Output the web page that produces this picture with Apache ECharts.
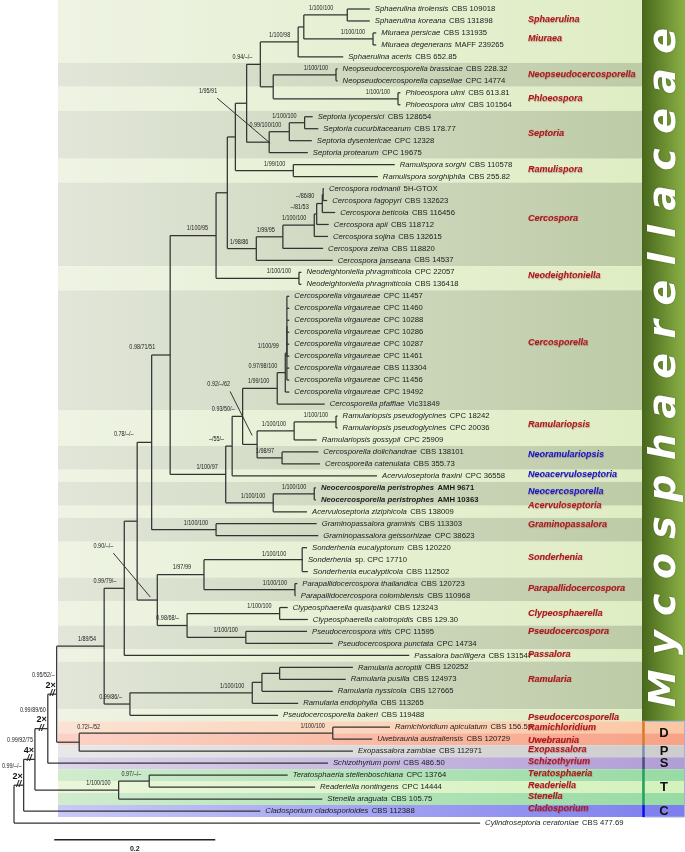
<!DOCTYPE html>
<html><head><meta charset="utf-8">
<script src="https://cdn.jsdelivr.net/npm/echarts@6/dist/echarts.min.js"></script>
<style>html,body{margin:0;padding:0;background:#fff}#c{width:685px;height:852px}</style>
</head><body><div id="c"></div>
<script>
// ---------------- DATA ----------------
const taxonNames = ['Sphaerulina tirolensis','Sphaerulina koreana','Miuraea persicae','Miuraea degenerans','Sphaerulina aceris',
'Neopseudocercosporella brassicae','Neopseudocercosporella capsellae','Phloeospora ulmi','Phloeospora ulmi',
'Septoria lycopersici','Septoria cucurbitacearum','Septoria dysentericae','Septoria protearum',
'Ramulispora sorghi','Ramulispora sorghiphila',
'Cercospora rodmanii','Cercospora fagopyri','Cercospora beticola','Cercospora apii','Cercospora sojina','Cercospora zeina','Cercospora janseana',
'Neodeightoniella phragmiticola','Neodeightoniella phragmiticola',
'Cercosporella virgaureae','Cercosporella virgaureae','Cercosporella virgaureae','Cercosporella virgaureae','Cercosporella virgaureae','Cercosporella virgaureae','Cercosporella virgaureae','Cercosporella virgaureae','Cercosporella virgaureae','Cercosporella pfaffiae',
'Ramulariopsis pseudoglycines','Ramulariopsis pseudoglycines','Ramulariopsis gossypii',
'Cercosporella dolichandrae','Cercosporella catenulata','Acervuloseptoria fraxini',
'Neocercosporella peristrophes','Neocercosporella peristrophes','Acervuloseptoria ziziphicola',
'Graminopassalora graminis','Graminopassalora geissorhizae',
'Sonderhenia eucalyptorum','Sonderhenia','Sonderhenia eucalypticola',
'Parapallidocercospora thailandica','Parapallidocercospora colombiensis',
'Clypeosphaerella quasiparkii','Clypeosphaerella calotropidis','Pseudocercospora vitis','Pseudocercospora punctata',
'Passalora bacilligera','Ramularia acroptili','Ramularia pusilla','Ramularia nyssicola','Ramularia endophylla',
'Pseudocercosporella bakeri','Ramichloridium apiculatum','Uwebraunia australiensis','Exopassalora zambiae',
'Schizothyrium pomi','Teratosphaeria stellenboschiana','Readeriella nontingens','Stenella araguata',
'Cladosporium cladosporioides','Cylindroseptoria ceratoniae'];
const strains = ['CBS 109018','CBS 131898','CBS 131935','MAFF 239265','CBS 652.85',
'CBS 228.32','CPC 14774','CBS 613.81','CBS 101564',
'CBS 128654','CBS 178.77','CPC 12328','CPC 19675',
'CBS 110578','CBS 255.82',
'5H-GTOX','CBS 132623','CBS 116456','CBS 118712','CBS 132615','CBS 118820','CBS 14537',
'CPC 22057','CBS 136418',
'CPC 11457','CPC 11460','CPC 10288','CPC 10286','CPC 10287','CPC 11461','CBS 113304','CPC 11456','CPC 19492','Vic31849',
'CPC 18242','CPC 20036','CPC 25909',
'CBS 138101','CBS 355.73','CPC 36558',
'AMH 9671','AMH 10363','CBS 138009',
'CBS 113303','CPC 38623',
'CBS 120220','sp. CPC 17710','CBS 112502',
'CBS 120723','CBS 110968',
'CBS 123243','CBS 129.30','CPC 11595','CPC 14734',
'CBS 131547','CBS 120252','CBS 124973','CBS 127665','CBS 113265',
'CBS 119488','CBS 156.59','CBS 120729','CBS 112971',
'CBS 486.50','CPC 13764','CPC 14444','CBS 105.75',
'CBS 112388','CBS 477.69'];
const boldRows = [40, 41];
// tip depth (substitutions per site, truncated branches shortened as in the figure)
const tipDepth = [0.442,0.442,0.450,0.450,0.409,
0.402,0.402,0.480,0.480,
0.371,0.378,0.370,0.365,
0.473,0.452,
0.385,0.389,0.399,0.391,0.390,0.384,0.396,
0.357,0.357,
0.342,0.342,0.342,0.342,0.342,0.342,0.342,0.342,0.342,0.386,
0.402,0.402,0.376,
0.378,0.380,0.451,
0.375,0.375,0.364,
0.376,0.378,
0.364,0.359,0.365,
0.352,0.350,
0.340,0.365,0.364,0.396,
0.491,0.421,0.412,0.396,0.353,
0.328,0.467,0.445,0.421,
0.390,0.340,0.374,0.383,
0.306,0.579];

const nodeIds = ['R','M','L','K','J','D','RU','T','TR','I','RAM','R3','R2','R1','H','F','G','SP','SON','PAR','CP','CLY','PSC','E','GRA','Nd','Nc','NN2','NN1','Nb','Na','Nr3','Nr2','Nr1','Nnr','Nv3','Nv2','Nv1','Nv0','N216','NEO','N227','Nc6','Nc5','Nc4','Nc3','Nc2','Nc1','N235','RSP','N247','S3','S2','S1','C260','E273','NPS','PHL','D298','A304','SPH','MIU'];
const nodeDepth = [0,0.012,0.026,0.042,0.053,0.081,0.396,0.130,0.168,0.112,0.144,0.296,0.308,0.330,0.137,0.153,0.178,0.236,0.358,0.349,0.215,0.330,0.288,0.171,0.251,0.194,0.263,0.322,0.373,0.271,0.284,0.302,0.348,0.400,0.333,0.327,0.337,0.339,0.339,0.251,0.354,0.265,0.301,0.334,0.373,0.376,0.383,0.384,0.275,0.347,0.289,0.317,0.342,0.361,0.306,0.322,0.400,0.477,0.353,0.360,0.414,0.446];
const nodeChildren = [['M',68],['L',67],['K','T'],['J',63],['I','D'],['RU',62],[60,61],['TR',66],[64,65],['H','RAM'],['R3',59],['R2',58],['R1',57],[55,56],['F',54],['E','G'],['SP','CP'],['SON','PAR'],[45,46,47],[48,49],['CLY','PSC'],[50,51],[52,53],['Nd','GRA'],[43,44],['N216','Nc'],['Nb','NN2'],['NN1',42],[40,41],['Na',39],['Nv3','Nr3'],['Nr2','Nnr'],['Nr1',36],[34,35],[37,38],['Nv2',33],['Nv1',32],['Nv0',30,31],[24,25,26,27,28,29],['N227','NEO'],[22,23],['N235','Nc6'],['Nc5',21],['Nc4',20],['Nc3',19],['Nc2',18],['Nc1',17],[15,16],['N247','RSP'],[13,14],['C260','S3'],['S2',12],['S1',11],[9,10],['D298','E273'],['NPS','PHL'],[5,6],[7,8],['A304',4],['SPH','MIU'],[0,1],[2,3]];
const nodeSupport = ['','0.99/–/–','0.99/92/75','0.99/89/60','0.95/52/–','0.72/–/52','1/100/100','1/100/100','0.97/–/–','1/89/54','0.99/86/–','1/100/100','','','0.99/79/–','','0.90/–/–','1/97/99','1/100/100','1/100/100','0.98/68/–','1/100/100','1/100/100','0.78/–/–','1/100/100','0.98/71/51','1/100/97','1/100/100','1/100/100','–/55/–','0.93/50/–','0.92/–/62','1/100/100','1/100/100','1/98/97','1/99/100','0.97/98/100','1/100/99','','1/100/95','1/100/100','','1/98/86','1/99/95','1/100/100','–/81/53','–/86/80','','','1/99/100','','1/95/91','0.99/100/100','1/100/100','0.94/–/–','','1/100/100','1/100/100','1/100/98','','1/100/100','1/100/100'];
const truncatedNodes = ['M','L','K','J'];
const truncationFactor = ['2×','4×','2×','2×'];

const genusNames = ['Sphaerulina','Miuraea','Neopseudocercosporella','Phloeospora','Septoria','Ramulispora','Cercospora','Neodeightoniella','Cercosporella','Ramulariopsis','Neoramulariopsis','Neoacervuloseptoria','Neocercosporella','Acervuloseptoria','Graminopassalora','Sonderhenia','Parapallidocercospora','Clypeosphaerella','Pseudocercospora','Passalora','Ramularia','Pseudocercosporella','Ramichloridium','Uwebraunia','Exopassalora','Schizothyrium','Teratosphaeria','Readeriella','Stenella','Cladosporium'];
const genusRows = [0.92,2.5,5.5,7.5,10.4,13.45,17.5,22.3,27.9,34.75,37.25,38.9,40.35,41.5,43.1,45.8,48.4,50.5,52.0,53.9,56.0,59.15,60.05,61.1,61.9,62.9,63.9,64.9,65.75,66.8];
const newGenera = ['Neoramulariopsis','Neoacervuloseptoria','Neocercosporella'];

const bandStart = [0,5,7,9,13,15,22,24,34,37,39,40,42,43,45,48,50,52,54,55,59,60,61,62,63,64,65,66,67];
const bandEnd   = [4,6,8,12,14,21,23,33,36,38,39,41,42,44,47,49,51,53,54,58,59,60,61,62,63,64,65,66,67];
const bandKind  = ['L','D','L','D','L','D','L','D','L','D','L','D','L','D','L','D','L','D','L','D','L','peach','salmon','gray','purple','mint','pale','mint','blue'];

const familyName = 'Mycosphaerellaceae';
const familyLastRow = 59;
const groupLetters = ['D','P','S','T','C'];
const groupFirstRow = [60,62,63,64,67];
const groupLastRow  = [61,62,63,66,67];
const scaleBarLength = 0.2;
const scaleBarLabel = '0.2';

// ---------------- STYLE / LAYOUT ----------------
const FONT = '"Liberation Sans", Arial, sans-serif';
const NARROW_SCALE = 0.78;
const TIP_SIZE = 7.7;
const bandColors = {
  L:['#eef3e3','#dfedc4'], D:['#e2e6d9','#bdcba6'],
  peach:['#fbe2d2','#fbc7a3'], salmon:['#fbd3c6','#f7a285'], gray:['#e8e8e8','#cdcdcd'],
  purple:['#ddd5ea','#b19dd6'], mint:['#d0eccd','#97dba4'], pale:['#ebf6dc','#d3f2bd'], blue:['#c9c9f6','#7d7dee']
};
const groupLineColors = ['#e07a22','#7d90b5','#4b4b7c','#23a357','#0a0aee'];
const labelTweaks = {
  D:{dx:-2, dy:-15, align:'left'},
  S3:{dx:-52, dy:-51, lead:[1,1]},
  Nr3:{dx:-27, dy:-60, lead:[-5,-9]},
  G:{dx:-44, dy:-54, lead:[-7,-3]},
  SPH:{dx:-14, dy:-7}, E:{dx:-18, dy:-8}, Nd:{dx:-15, dy:-8}, SON:{dx:-16, dy:-6}, SP:{dx:-13, dy:-8}
};

// ---------------- TREE LAYOUT ----------------
const idx = {}; nodeIds.forEach((id,i)=>idx[id]=i);
const depthOf = c => typeof c === 'number' ? tipDepth[c] : nodeDepth[idx[c]];
const yMemo = {};
function yOf(c){
  if (typeof c === 'number') return c;
  if (yMemo[c] !== undefined) return yMemo[c];
  const ch = nodeChildren[idx[c]];
  return (yMemo[c] = (yOf(ch[0]) + yOf(ch[ch.length-1])) / 2);
}
const segments = [];
const parentDepth = {};
nodeIds.forEach((id,i)=>{
  const ch = nodeChildren[i], d = nodeDepth[i];
  segments.push([d, yOf(ch[0]), d, yOf(ch[ch.length-1])]);
  ch.forEach(c=>{
    segments.push([d, yOf(c), depthOf(c), yOf(c)]);
    if (typeof c === 'string') parentDepth[c] = d;
  });
});
const supportData = [], supportIds = [];
nodeIds.forEach((id,i)=>{ if (nodeSupport[i]) { supportData.push([nodeDepth[i], yOf(id), parentDepth[id]]); supportIds.push(id); } });
const tipData = tipDepth.map((d,r)=>[d,r]);
const bandData = bandStart.map((s,i)=>[s, bandEnd[i]]);
const genusData = genusRows.map(r=>[0.639, r]);

// ---------------- RENDERERS ----------------
function grad(c){ return new echarts.graphic.LinearGradient(0,0,1,0,[{offset:0,color:c[0]},{offset:1,color:c[1]}]); }

function renderBand(params, api){
  const i = params.dataIndex, s = api.value(0), e = api.value(1);
  const y0 = api.coord([0, s - (i === 0 ? 0.75 : 0.5)])[1];
  const y1 = api.coord([0, e + 0.5])[1];
  const k = bandKind[i];
  const x0 = 58, x1 = (k === 'L' || k === 'D') ? 642 : 685;
  return {type:'rect', shape:{x:x0, y:y0, width:x1-x0, height:y1-y0}, style:{fill:grad(bandColors[k])}};
}
function renderSeg(params, api){
  const a = api.coord([api.value(0), api.value(1)]);
  const b = api.coord([api.value(2), api.value(3)]);
  return {type:'line', shape:{x1:a[0], y1:a[1], x2:b[0], y2:b[1]}, style:{stroke:'#333', lineWidth:1.25}};
}
function smallText(x, y, text, align){
  return {type:'text', x, y, scaleX:NARROW_SCALE, style:{text, font:'7px '+FONT, fill:'#222', align:align||'right', verticalAlign:'middle'}};
}
function renderSupport(params, api){
  const id = supportIds[params.dataIndex];
  const text = nodeSupport[idx[id]];
  const p = api.coord([api.value(0), api.value(1)]);
  const pp = api.coord([api.value(2), api.value(1)]);
  const kids = [];
  const ti = truncatedNodes.indexOf(id);
  if (ti >= 0) {
    kids.push(smallText(p[0]-2, p[1]-19, text));
    kids.push({type:'text', x:p[0]-1, y:p[1]-9, style:{text:truncationFactor[ti], font:'bold 9px '+FONT, fill:'#111', align:'right', verticalAlign:'middle'}});
    kids.push({type:'text', x:(p[0]+pp[0])/2, y:p[1]-0.5, style:{text:'//', font:'italic bold 9px '+FONT, fill:'#222', align:'center', verticalAlign:'middle'}});
    return {type:'group', children:kids};
  }
  const t = labelTweaks[id] || {dx:-8, dy:-7};
  kids.push(smallText(p[0]+t.dx, p[1]+t.dy, text, t.align));
  if (t.lead) kids.push({type:'line', shape:{x1:p[0]+t.dx, y1:p[1]+t.dy+7, x2:p[0]+t.lead[0], y2:p[1]+t.lead[1]}, style:{stroke:'#333', lineWidth:1}});
  return {type:'group', children:kids};
}
function renderTip(params, api){
  const r = params.dataIndex;
  const p = api.coord([api.value(0), api.value(1)]);
  const b = boldRows.indexOf(r) >= 0;
  return {type:'text', x:p[0]+5, y:p[1], style:{
    text:'{i|'+taxonNames[r]+'} {n|'+strains[r]+'}', align:'left', verticalAlign:'middle',
    rich:{
      i:{fontStyle:'italic', fontWeight:b?'bold':'normal', fontSize:TIP_SIZE, fontFamily:FONT, fill:'#1a1a1a', color:'#1a1a1a'},
      n:{fontWeight:b?'bold':'normal', fontSize:TIP_SIZE, fontFamily:FONT, fill:'#1a1a1a', color:'#1a1a1a'}
    }}};
}
function renderGenus(params, api){
  const name = genusNames[params.dataIndex];
  const p = api.coord([api.value(0), api.value(1)]);
  const blue = newGenera.indexOf(name) >= 0;
  return {type:'text', x:528, y:p[1], style:{text:name, font:'italic bold 9px '+FONT, fill: blue ? '#1414d2' : '#b5141c',
    align:'left', verticalAlign:'middle', textShadowColor:'rgba(60,0,0,0.3)', textShadowBlur:1, textShadowOffsetX:0.5, textShadowOffsetY:0.5}};
}
function renderPanel(params, api){
  const kids = [];
  const yEnd = api.coord([0, familyLastRow + 0.5])[1];
  kids.push({type:'rect', shape:{x:642, y:0, width:43, height:yEnd}, style:{fill:grad(['#47661b','#8cb246'])}});
  const ctx = document.createElement('canvas').getContext('2d');
  const font = 'italic bold 38px "DejaVu Sans", sans-serif';
  ctx.font = font;
  const letters = familyName.split('');
  const w = letters.map(ch => ctx.measureText(ch).width);
  const total = w.reduce((a,b)=>a+b,0);
  const top = 28, bottom = yEnd - 14;
  const gap = (bottom - top - total) / (letters.length - 1);
  let y = bottom;
  letters.forEach((ch,k)=>{
    kids.push({type:'text', x:665, y:y, rotation:Math.PI/2, style:{text:ch, font, fill:'#ffffff', align:'left', verticalAlign:'middle',
      textShadowColor:'rgba(30,50,10,0.45)', textShadowBlur:2}});
    y -= w[k] + gap;
  });
  const b0 = api.coord([0, groupFirstRow[0]-0.5])[1], b1 = api.coord([0, groupLastRow[groupLastRow.length-1]+0.5])[1];
  kids.push({type:'rect', shape:{x:642.5, y:b0, width:42, height:b1-b0}, style:{fill:'none', stroke:'#9fb6dc', lineWidth:1}});
  groupLetters.forEach((g,i)=>{
    const a = api.coord([0, groupFirstRow[i]-0.5])[1], c = api.coord([0, groupLastRow[i]+0.5])[1];
    kids.push({type:'line', shape:{x1:643.5, y1:a, x2:643.5, y2:c}, style:{stroke:groupLineColors[i], lineWidth:2.5}});
    kids.push({type:'text', x:664, y:(a+c)/2, style:{text:g, font:'bold 13px '+FONT, fill:'#111', align:'center', verticalAlign:'middle'}});
  });
  return {type:'group', children:kids};
}
function renderScale(params, api){
  const a = api.coord([api.value(0), api.value(2)]);
  const b = api.coord([api.value(1), api.value(2)]);
  return {type:'group', children:[
    {type:'line', shape:{x1:a[0], y1:a[1], x2:b[0], y2:b[1]}, style:{stroke:'#222', lineWidth:1.3}},
    {type:'text', x:(a[0]+b[0])/2, y:a[1]+9, style:{text:scaleBarLabel, font:'bold 7px '+FONT, fill:'#222', align:'center', verticalAlign:'middle'}}
  ]};
}

const chart = echarts.init(document.getElementById('c'), null, {renderer:'canvas'});
chart.setOption({
  animation:false,
  grid:{left:14, right:27, top:9, bottom:29},
  xAxis:{type:'value', min:0, max:0.8, show:false},
  yAxis:{type:'value', min:0, max:68, inverse:true, show:false},
  series:[
    {type:'custom', name:'bands', data:bandData, renderItem:renderBand, clip:false, z:1, silent:true},
    {type:'custom', name:'panel', data:[[0,0]], renderItem:renderPanel, clip:false, z:2, silent:true},
    {type:'custom', name:'tree', data:segments, renderItem:renderSeg, clip:false, z:3, silent:true},
    {type:'custom', name:'support', data:supportData, renderItem:renderSupport, clip:false, z:4, silent:true},
    {type:'custom', name:'taxa', data:tipData, renderItem:renderTip, clip:false, z:4, silent:true},
    {type:'custom', name:'genera', data:genusData, renderItem:renderGenus, clip:false, z:4, silent:true},
    {type:'custom', name:'scale', data:[[0.05, 0.05+scaleBarLength, 69.4]], renderItem:renderScale, clip:false, z:4, silent:true}
  ]
});
</script></body></html>
